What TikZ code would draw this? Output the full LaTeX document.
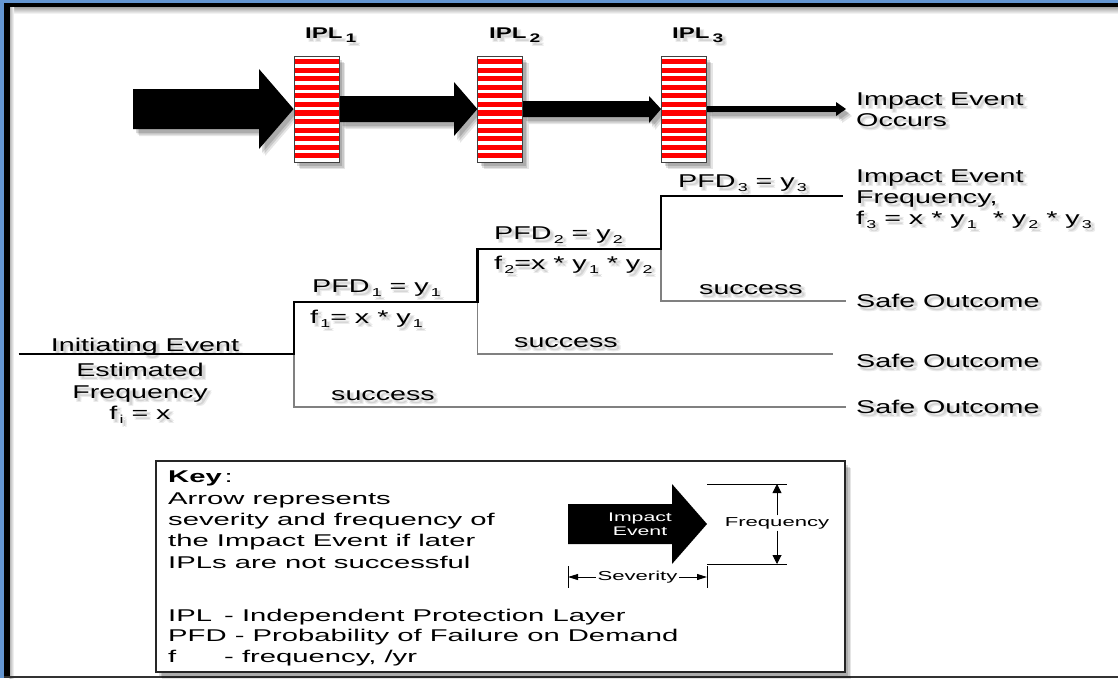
\documentclass[tikz,border=0pt]{standalone}
\usepackage{fontspec}
\setmainfont{Liberation Sans}
\newfontfamily\labf[FakeStretch=1.55]{Liberation Sans}
\newfontfamily\keyf[FakeStretch=1.72]{Liberation Sans}
\newfontfamily\smallf[FakeStretch=1.7]{Liberation Sans}
\usetikzlibrary{arrows.meta,calc}
\definecolor{framebl}{RGB}{100,150,210}
\definecolor{iplred}{RGB}{255,0,0}
% lowered, reduced index digit
\newcommand\lo[1]{\kern0.12em\raisebox{-0.22em}{\scalebox{0.62}{#1}}}
% larger index used on the layer titles
\newcommand\loB[1]{\kern3pt\raisebox{-4pt}{\scalebox{0.8}{#1}}}
% text with a soft grey drop shadow
\newcommand\sh[1]{\leavevmode
  \rlap{\kern1.8pt\raisebox{-2pt}{\color{black!8}#1}}%
  \rlap{\kern4.2pt\raisebox{-4.5pt}{\color{black!8}#1}}%
  \rlap{\kern4.2pt\raisebox{-2pt}{\color{black!8}#1}}%
  \rlap{\kern1.8pt\raisebox{-4.5pt}{\color{black!8}#1}}%
  \rlap{\kern3pt\raisebox{-3.2pt}{\color{black!17}#1}}#1}

\begin{document}
\begin{tikzpicture}[x=1pt,y=-1pt,
  lbl/.style={font=\labf\fontsize{18.5}{21}\selectfont, inner sep=0pt, anchor=base west},
  lblc/.style={lbl, anchor=base},
  iplt/.style={font=\labf\bfseries\fontsize{15.5}{15}\selectfont, inner sep=0pt, anchor=base west},
  keyt/.style={font=\keyf\fontsize{17}{20}\selectfont, inner sep=0pt, anchor=base west},
  smallt/.style={font=\smallf\fontsize{13}{14}\selectfont, inner sep=1.5pt, align=center},
  mainpath/.style={line width=2.2pt, black},
  succ/.style={line width=1.1pt, black!50},
  softshadow/.style={
    preaction={fill=black, fill opacity=0.10, draw=none, transform canvas={xshift=6pt,yshift=-7pt}},
    preaction={fill=black, fill opacity=0.12, draw=none, transform canvas={xshift=4.5pt,yshift=-5.5pt}},
    preaction={fill=black, fill opacity=0.14, draw=none, transform canvas={xshift=3pt,yshift=-4pt}}},
  bigarrow/.style={fill=black, softshadow},
  iplbox/.style={draw=black!75, line width=0.9pt, fill=white, minimum width=45pt,
    minimum height=106pt, inner sep=0pt,
    path picture={\foreach \i in {0,...,11}{
      \fill[iplred] ($(path picture bounding box.north west)+(0,{3+\i*8.58})$)
        rectangle ($(path picture bounding box.north east)+(0,{3+\i*8.58+5.1})$);}}},
  dimtip/.style={-{Triangle[length=9pt,width=9pt]}, line width=0.9pt},
  sevtip/.style={-{Triangle[length=10pt,width=6pt]}, line width=0.9pt}
]
\useasboundingbox (0,0) rectangle (1118,678);
\fill[white] (0,0) rectangle (1118,678);

% frame
\fill[framebl] (0,0) rectangle (1118,2.7);
\fill[framebl] (0,0) rectangle (3.6,678);
\shade[top color=black!35, bottom color=white] (9.5,7.3) rectangle (1118,14);
\shade[left color=black!30, right color=white] (9.5,7.3) rectangle (14,678);
\fill[black] (3.6,2.7) rectangle (1118,7.3);
\fill[black] (3.8,2.7) rectangle (9.5,678);
\fill[black!80] (3.8,676) rectangle (1118,678);

% protection layers and the impact event passing through them
\coordinate (c1) at (316.5,109);
\coordinate (c2) at (500.25,109);
\coordinate (c3) at (684,109);
\node[iplbox, softshadow] (ipl1) at (c1) {};
\node[iplbox, softshadow] (ipl2) at (c2) {};
\node[iplbox, softshadow] (ipl3) at (c3) {};
\fill[bigarrow] (133,89) -- (259,89) -- (259,69) -- (ipl1.west) -- (259,149) -- (259,129) -- (133,129) -- cycle;
\fill[bigarrow] (ipl1.east |- 0,96) -- (454,96) -- (454,82) -- (ipl2.west) -- (454,136) -- (454,122) -- (ipl1.east |- 0,122) -- cycle;
\fill[bigarrow] (ipl2.east |- 0,101) -- (649,101) -- (649,96) -- (ipl3.west) -- (649,123) -- (649,117) -- (ipl2.east |- 0,117) -- cycle;
\fill[bigarrow] (ipl3.east |- 0,106) -- (836,106) -- (836,102) -- (846,109) -- (836,116) -- (836,112) -- (ipl3.east |- 0,112) -- cycle;
% layer faces drawn over the arrow shadows
\node[iplbox] (ipl1f) at (c1) {};
\node[iplbox] (ipl2f) at (c2) {};
\node[iplbox] (ipl3f) at (c3) {};

\node[iplt] (l1) at (305,38) {\sh{IPL\loB{1}}};
\node[iplt] (l2) at (489,38) {\sh{IPL\loB{2}}};
\node[iplt] (l3) at (672,38) {\sh{IPL\loB{3}}};

\node[lbl] (occA) at (856,105) {\sh{Impact Event}};
\node[lbl] (occB) at (856,126) {\sh{Occurs}};

% event tree labels
\node[lblc] (ieA) at (145,351) {\sh{Initiating Event}};
\node[lblc] (ieB) at (140,376) {\sh{Estimated}};
\node[lblc] (ieC) at (140,398) {\sh{Frequency}};
\node[lblc] (ieD) at (140,419) {\sh{f\lo{i} = x}};

\node[lbl] (pfd1) at (312,292) {\sh{PFD\lo{1} = y\lo{1}}};
\node[lbl] (f1) at (310,323) {\sh{f\lo{1}= x * y\lo{1}}};
\node[lbl] (pfd2) at (494,239) {\sh{PFD\lo{2} = y\lo{2}}};
\node[lbl] (f2) at (494,269) {\sh{f\lo{2}=x * y\lo{1} * y\lo{2}}};
\node[lbl] (pfd3) at (678,187) {\sh{PFD\lo{3} = y\lo{3}}};

\node[lbl] (suc1) at (331,400) {\sh{success}};
\node[lbl] (suc2) at (514,347) {\sh{success}};
\node[lbl] (suc3) at (699,294) {\sh{success}};

\node[lbl] (ifA) at (856,182) {\sh{Impact Event}};
\node[lbl] (ifB) at (856,203) {\sh{Frequency,}};
\node[lbl] (ifC) at (856,224) {\sh{f\lo{3} = x * y\lo{1} \ * y\lo{2} * y\lo{3}}};

\node[lbl] (safe3) at (856,307) {\sh{Safe Outcome}};
\node[lbl] (safe2) at (856,367) {\sh{Safe Outcome}};
\node[lbl] (safe1) at (856,413) {\sh{Safe Outcome}};

% event tree branches
\coordinate (ie) at (18.6,354);
\coordinate (s1) at (294,354);
\coordinate (s2) at (477.5,302);
\coordinate (s3) at (661,249);
\coordinate (endF) at (843,196);
\coordinate (endA) at (846,407);
\coordinate (endB) at (833,354);
\coordinate (endC) at (846,301);
\draw[succ] (s1) |- (endA);
\draw[succ] (s2) |- (endB);
\draw[succ] (s3) |- (endC);
\draw[mainpath] (ie) -- (s1) |- (s2) |- (s3) |- (endF);

% key
\node[draw=black!85, line width=1.3pt, fill=white, softshadow, inner sep=0pt,
  minimum width=689pt, minimum height=211pt] (key) at (500.5,566.5) {};
\node[keyt] (k0) at (168,482.7) {\textbf{Key}\,:};
\node[keyt] (k1) at (168,504) {Arrow represents};
\node[keyt] (k2) at (168,525.3) {severity and frequency of};
\node[keyt] (k3) at (168,546.7) {the Impact Event if later};
\node[keyt] (k4) at (168,568) {IPLs are not successful};
\node[keyt] (k5) at (168,621) {IPL};
\node[keyt] (k5d) at (224,621) {- Independent Protection Layer};
\node[keyt] (k6) at (168,641.5) {PFD - Probability of Failure on Demand};
\node[keyt] (k7) at (168,662) {f};
\node[keyt] (k7d) at (224,662) {- frequency, /yr};

\fill[black] (568,504) -- (672,504) -- (672,484) -- (707,524) -- (672,564) -- (672,544) -- (568,544) -- cycle;
\node[smallt, text=white, font=\smallf\fontsize{12.5}{14}\selectfont] (ievt) at (640,524) {Impact\\Event};

\coordinate (ftop) at (787,484);
\coordinate (fbot) at (787,564);
\draw[line width=0.9pt] (707,484) -- (ftop);
\draw[line width=0.9pt] (707,564) -- (fbot);
\node[smallt] (freq) at (777,523) {Frequency};
\draw[dimtip] (freq.north) -- (freq.north |- ftop);
\draw[dimtip] (freq.south) -- (freq.south |- fbot);

\coordinate (sl) at (568,577);
\coordinate (sr) at (707,577);
\draw[line width=0.9pt] (568,566) -- (568,588);
\draw[line width=0.9pt] (707,566) -- (707,588);
\node[smallt] (sev) at (637.5,577) {Severity};
\draw[sevtip] (sev.west) -- (sl);
\draw[sevtip] (sev.east) -- (sr);
\end{tikzpicture}
\end{document}
